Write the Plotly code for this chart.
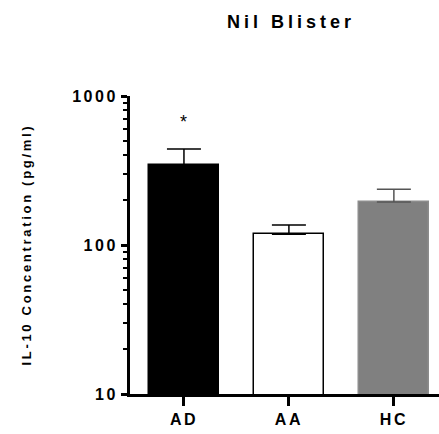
import math
import plotly.graph_objects as go

# IL-10 concentration (pg/ml), mean and upper error (mean + SEM)
groups = ["AD", "AA", "HC"]
means = [344, 118, 194]
upper = [441, 136, 237]
fills = ["#000000", "#ffffff", "#808080"]
edges = ["#000000", "#000000", "#8c8c8c"]
err_colors = ["#000000", "#000000", "#555555"]

y_tickvals = [10, 100, 1000]
y_ticktext = ["10", "100", "1000"]

FONT = "Liberation Sans, Arial, sans-serif"


def spaced(txt, px):
    return f'<span style="letter-spacing:{px}px">{txt}</span>'


fig = go.Figure()
for g, m, u, fc, ec, erc in zip(groups, means, upper, fills, edges, err_colors):
    fig.add_trace(go.Bar(
        x=[g], y=[m],
        width=0.667,
        marker=dict(color=fc, line=dict(color=ec, width=1.5)),
        error_y=dict(type="data", symmetric=False, array=[u - m], arrayminus=[0],
                     color=erc, thickness=1.5, width=17),
        showlegend=False,
    ))

# significance marker above AD
fig.add_annotation(x=groups[0], y=math.log10(upper[0]), xref="x", yref="y",
                   text="*", showarrow=False, yshift=27,
                   font=dict(family=FONT, size=18, color="#000"))

# y-axis title
fig.add_annotation(xref="paper", yref="paper", x=-0.338, y=0.5,
                   text=spaced("IL-10 Concentration (pg/ml)", 2.7),
                   textangle=-90, showarrow=False, xanchor="center", yanchor="middle",
                   font=dict(family=FONT, size=13, color="#000", weight="bold"))

fig.update_layout(
    width=439, height=434,
    margin=dict(l=130, r=0, t=96, b=40),
    paper_bgcolor="white", plot_bgcolor="white",
    bargap=0,
    title=dict(text=spaced("Nil Blister", 4), x=291 / 439, xanchor="center",
               y=1 - 22 / 434, yanchor="middle",
               font=dict(family=FONT, size=18, color="#000", weight="bold")),
    xaxis=dict(
        type="category", range=[-0.514, 2.43],
        showline=True, linecolor="#000", linewidth=2.5,
        ticks="outside", ticklen=9, tickwidth=2.5, tickcolor="#000",
        tickvals=groups, ticktext=[spaced(g, 2.5) for g in groups],
        tickfont=dict(family=FONT, size=16, color="#000", weight="bold"),
        showgrid=False, zeroline=False,
    ),
    yaxis=dict(
        type="log", range=[1, 3],
        showline=True, linecolor="#000", linewidth=3,
        ticks="outside", ticklen=6, tickwidth=2.5, tickcolor="#000",
        tickvals=y_tickvals, ticktext=[spaced(t, 2.5) for t in y_ticktext],
        tickfont=dict(family=FONT, size=16, color="#000", weight="bold"),
        minor=dict(ticks="outside", ticklen=4, tickwidth=2, tickcolor="#000",
                   dtick="D1", showgrid=False),
        showgrid=False, zeroline=False,
    ),
)

fig.write_html("out.html")
